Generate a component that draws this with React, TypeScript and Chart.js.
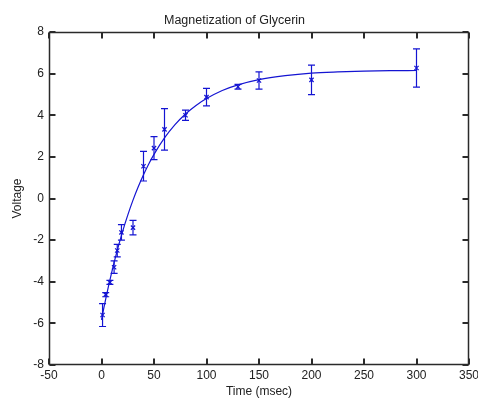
import React, { useEffect, useRef } from "react";
import { Chart, registerables } from "chart.js";

Chart.register(...registerables);

// Measured data points (time in msec, voltage)
const timeData = [1, 4, 8, 12, 15, 19, 30, 40, 50, 60, 80, 100, 130, 150, 200, 300];
const voltData = [-5.6, -4.62, -4.03, -3.3, -2.5, -1.63, -1.4, 1.55, 2.42, 3.32, 4.0, 4.87, 5.37, 5.67, 5.7, 6.27];
const voltErr = [0.55, 0.1, 0.1, 0.3, 0.3, 0.37, 0.35, 0.71, 0.55, 1.0, 0.25, 0.42, 0.11, 0.41, 0.71, 0.92];

// Fitted curve
const fitTime = [0, 2, 5, 10, 15, 20, 25, 30, 35, 40, 45, 50, 60, 70, 80, 90, 100, 115, 130, 150, 175, 200, 225, 250, 275, 300];
const fitVolt = [-5.83, -5.32, -4.59, -3.49, -2.49, -1.6, -0.8, -0.08, 0.56, 1.14, 1.66, 2.12, 2.91, 3.55, 4.06, 4.47, 4.8, 5.19, 5.46, 5.71, 5.9, 6.02, 6.08, 6.12, 6.14, 6.15];

const xTicks = [-50, 0, 50, 100, 150, 200, 250, 300, 350];
const yTicks = [-8, -6, -4, -2, 0, 2, 4, 6, 8];

const TITLE = "Magnetization of Glycerin";
const X_LABEL = "Time (msec)";
const Y_LABEL = "Voltage";

const BLUE = "#1414d2";
const AXIS = "#2a2a2a";
const FONT = "'Liberation Sans', Arial, Helvetica, sans-serif";

const errorBarPlugin = {
  id: "errorBars",
  afterDatasetsDraw(chart: any) {
    const ctx = chart.ctx;
    const xs = chart.scales.x;
    const ys = chart.scales.y;
    ctx.save();
    ctx.strokeStyle = BLUE;
    ctx.lineWidth = 1.2;
    for (let i = 0; i < timeData.length; i++) {
      const px = xs.getPixelForValue(timeData[i]);
      const top = ys.getPixelForValue(voltData[i] + voltErr[i]);
      const bot = ys.getPixelForValue(voltData[i] - voltErr[i]);
      ctx.beginPath();
      ctx.moveTo(px, top);
      ctx.lineTo(px, bot);
      ctx.moveTo(px - 3.5, top);
      ctx.lineTo(px + 3.5, top);
      ctx.moveTo(px - 3.5, bot);
      ctx.lineTo(px + 3.5, bot);
      ctx.stroke();
    }
    ctx.restore();
  },
};

const boxPlugin = {
  id: "matlabBox",
  afterDraw(chart: any) {
    const ctx = chart.ctx;
    const a = chart.chartArea;
    const xs = chart.scales.x;
    const ys = chart.scales.y;
    const L = Math.round(a.left) + 0.5;
    const R = Math.round(a.right) - 0.5;
    const T = Math.round(a.top) + 0.5;
    const B = Math.round(a.bottom) - 0.5;
    const tl = 6;
    ctx.save();
    ctx.strokeStyle = AXIS;
    ctx.lineWidth = 1.5;
    ctx.beginPath();
    ctx.moveTo(L, T);
    ctx.lineTo(R, T);
    ctx.lineTo(R, B);
    ctx.lineTo(L, B);
    ctx.closePath();
    ctx.stroke();
    ctx.lineWidth = 2;
    ctx.beginPath();
    for (const v of xTicks) {
      const p = Math.round(xs.getPixelForValue(v));
      ctx.moveTo(p, B);
      ctx.lineTo(p, B - tl);
      ctx.moveTo(p, T);
      ctx.lineTo(p, T + tl);
    }
    for (const v of yTicks) {
      const p = Math.round(ys.getPixelForValue(v));
      ctx.moveTo(L, p);
      ctx.lineTo(L + tl, p);
      ctx.moveTo(R, p);
      ctx.lineTo(R - tl, p);
    }
    ctx.stroke();
    ctx.restore();
  },
};

export default function App() {
  const ref = useRef<HTMLCanvasElement | null>(null);

  useEffect(() => {
    document.body.style.margin = "0";
    const canvas = ref.current;
    if (!canvas) return;
    const chart = new Chart(canvas, {
      type: "scatter",
      data: {
        datasets: [
          {
            label: "fit",
            data: fitTime.map((t, i) => ({ x: t, y: fitVolt[i] })),
            showLine: true,
            borderColor: BLUE,
            borderWidth: 1.2,
            pointRadius: 0,
            cubicInterpolationMode: "monotone",
          },
          {
            label: "data",
            data: timeData.map((t, i) => ({ x: t, y: voltData[i] })),
            showLine: false,
            pointStyle: "crossRot",
            pointRadius: 3,
            borderColor: BLUE,
            backgroundColor: BLUE,
            borderWidth: 1.2,
          },
        ],
      },
      options: {
        responsive: false,
        animation: false,
        devicePixelRatio: 1,
        layout: { padding: { left: 0, right: 9, top: 0, bottom: 0 } },
        plugins: {
          legend: { display: false },
          tooltip: { enabled: false },
          title: {
            display: true,
            text: TITLE,
            color: "#222",
            font: { family: FONT, size: 12.5, weight: "normal" },
            padding: { top: 13, bottom: 4 },
          },
        },
        scales: {
          x: {
            type: "linear",
            min: -50,
            max: 350,
            grid: { display: false, drawTicks: false, tickLength: 0 },
            border: { display: false },
            afterBuildTicks: (s: any) => {
              s.ticks = xTicks.map((v) => ({ value: v }));
            },
            afterFit: (s: any) => {
              s.height = 34;
              s.paddingLeft = 0;
              s.paddingRight = 0;
            },
            ticks: {
              color: "#222",
              font: { family: FONT, size: 12 },
              padding: 3,
              maxRotation: 0,
              autoSkip: false,
            },
            title: {
              display: true,
              text: X_LABEL,
              color: "#222",
              font: { family: FONT, size: 12 },
              padding: { top: 0, bottom: 0 },
            },
          },
          y: {
            type: "linear",
            min: -8,
            max: 8,
            grid: { display: false, drawTicks: false, tickLength: 0 },
            border: { display: false },
            afterBuildTicks: (s: any) => {
              s.ticks = yTicks.map((v) => ({ value: v }));
            },
            afterFit: (s: any) => {
              s.width = 49;
              s.paddingTop = 0;
              s.paddingBottom = 0;
            },
            ticks: {
              color: "#222",
              font: { family: FONT, size: 12 },
              padding: 5,
              autoSkip: false,
            },
            title: {
              display: true,
              text: Y_LABEL,
              color: "#222",
              font: { family: FONT, size: 12 },
              padding: { top: 10, bottom: 0 },
            },
          },
        },
      },
      plugins: [errorBarPlugin, boxPlugin],
    } as any);
    return () => chart.destroy();
  }, []);

  return (
    <div style={{ position: "absolute", left: 0, top: 0, width: 478, height: 399, background: "#fff" }}>
      <canvas ref={ref} width={478} height={399} style={{ display: "block" }} />
    </div>
  );
}
